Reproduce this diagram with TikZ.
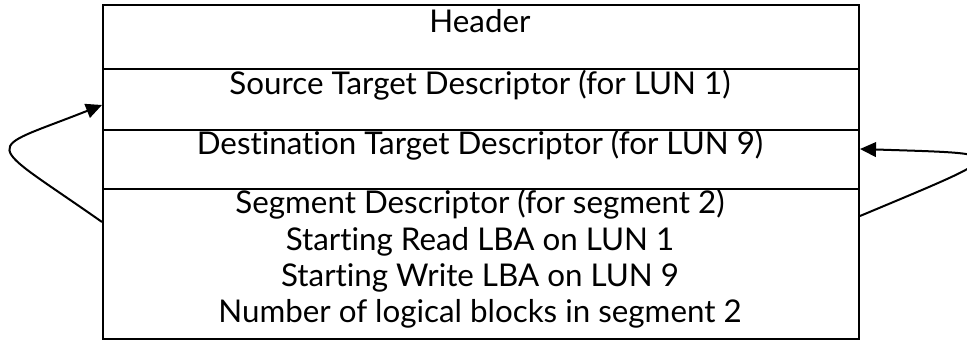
\documentclass[tikz,border=0pt]{standalone}
\usepackage{fontspec}
\setmainfont{Lato}[Ligatures={NoCommon}]
\usetikzlibrary{arrows.meta,calc}
\begin{document}
\begin{tikzpicture}[x=0.75pt,y=-0.75pt,
  cell/.style={draw,line width=1.5pt,rectangle,inner sep=0pt,
    minimum width=567pt,anchor=north west},
  txt/.style={anchor=base,inner sep=0pt,font=\fontsize{23.5}{28}\selectfont},
  loop/.style={line width=1.5pt,-{Triangle[length=12pt,width=11pt]}}]
\useasboundingbox (0,0) rectangle (967,341);

% the four fields of the parameter list
\node[cell,minimum height=48pt]    (hdr) at (102,4)   {};
\node[cell,minimum height=45.75pt] (src) at (102,68)  {};
\node[cell,minimum height=44.25pt] (dst) at (102,129) {};
\node[cell,minimum height=112.5pt] (seg) at (102,188) {};

% field labels
\node[txt] (thdr) at (480,33)  {Header};
\node[txt] (tsrc) at (480,95)  {Source Target Descriptor (for LUN 1)};
\node[txt] (tdst) at (480,155) {Destination Target Descriptor (for LUN 9)};
\node[txt] (tsg1) at (480,214) {Segment Descriptor (for segment 2)};
\node[txt] (tsg2) at (480,251) {Starting Read LBA on LUN 1};
\node[txt] (tsg3) at (480,287) {Starting Write LBA on LUN 9};
\node[txt] (tsg4) at (480,323) {Number of logical blocks in segment 2};

% references from the segment descriptor back to the target descriptors
\coordinate (segL) at ($(seg.north west)+(0,34)$);
\coordinate (srcL) at ($(src.north west)+(0,37)$);
\coordinate (segR) at ($(seg.north east)+(0,28)$);
\coordinate (dstR) at ($(dst.north east)+(0,20)$);

\draw[loop] (segL) .. controls +(-121,-85) and +(-121,48) .. (srcL);
\draw[loop] (segR) .. controls +(155,-65) and +(155,5) .. (dstR);
\end{tikzpicture}
\end{document}
